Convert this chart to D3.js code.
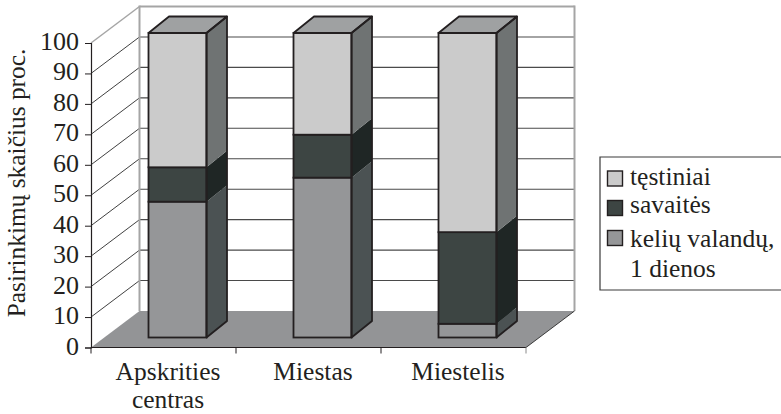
<!DOCTYPE html>
<html>
<head>
<meta charset="utf-8">
<script src="https://cdn.jsdelivr.net/npm/d3@7"></script>
<style>
  html, body { margin: 0; padding: 0; background: #fff; }
  svg { display: block; }
  text { font-family: "Liberation Serif", serif; fill: #231f20; }
</style>
</head>
<body>
<svg id="chart"></svg>
<script>
const categories = ["Apskrities centras", "Miestas", "Miestelis"];
const seriesNames = ["kelių valandų, 1 dienos", "savaitės", "tęstiniai"];
const hours = [44.6, 52.5, 4.5];
const weeks = [11.3, 14.1, 30.1];
const continuing = [44.1, 33.4, 65.4];
const yTicks = [0, 10, 20, 30, 40, 50, 60, 70, 80, 90, 100];
const legendLines = [["tęstiniai"], ["savaitės"], ["kelių valandų,", "1 dienos"]];

const width = 781, height = 414;
const svg = d3.select("#chart").attr("width", width).attr("height", height);

const x = d3.scaleBand().domain(categories).range([91, 526]);
const y = d3.scaleLinear().domain([0, 100]).range([347.5, 43]);
const color = d3.scaleOrdinal().domain(seriesNames).range(["#959698", "#3d4543", "#cbcbcb"]);
const sideColor = d3.scaleOrdinal().domain(seriesNames).range(["#4b5253", "#1f2625", "#6f7373"]);

const wall = {dx: 48.5, dy: -36.5};   // floor depth, front edge to back wall
const barFront = {dx: 14, dy: -10};
const barDepth = {dx: 20.5, dy: -16.5};
const barWidth = x.bandwidth() * 0.4;
const poly = pts => pts.map(p => p.join(",")).join(" ");
const x0 = x.range()[0], x1 = x.range()[1];

// back and left walls
yTicks.slice(1).forEach(t => {
    svg.append("line")
        .attr("x1", x0 + wall.dx).attr("x2", x1 + wall.dx)
        .attr("y1", y(t) + wall.dy).attr("y2", y(t) + wall.dy)
        .attr("stroke", t === 100 ? "#a5a5a5" : "#4a4a4a")
        .attr("stroke-width", t === 100 ? 2 : 1.1);
    svg.append("line")
        .attr("x1", x0).attr("x2", x0 + wall.dx)
        .attr("y1", y(t)).attr("y2", y(t) + wall.dy)
        .attr("stroke", t === 100 ? "#a5a5a5" : "#2a2a2a")
        .attr("stroke-width", t === 100 ? 1.5 : 0.9);
});
[x0 + wall.dx, x1 + wall.dx].forEach(px => {
    svg.append("line")
        .attr("x1", px).attr("x2", px)
        .attr("y1", y(100) + wall.dy - 1).attr("y2", y(0) + wall.dy)
        .attr("stroke", "#a5a5a5").attr("stroke-width", 2);
});

// floor
svg.append("polygon")
    .attr("points", poly([[x0, y(0)], [x1, y(0)], [x1 + wall.dx, y(0) + wall.dy], [x0 + wall.dx, y(0) + wall.dy]]))
    .attr("fill", "#939496");
svg.append("line")
    .attr("x1", x1).attr("x2", x1 + wall.dx)
    .attr("y1", y(0)).attr("y2", y(0) + wall.dy)
    .attr("stroke", "#2a2a2a").attr("stroke-width", 0.9);

// stacked columns
const rows = categories.map((c, i) => ({
    category: c,
    [seriesNames[0]]: hours[i],
    [seriesNames[1]]: weeks[i],
    [seriesNames[2]]: continuing[i]
}));
const stacked = d3.stack().keys(seriesNames)(rows);

const barLeft = d => x(d.data.category) + (x.bandwidth() - barWidth) / 2 + barFront.dx;
const edge = "#231f20";

const sides = svg.append("g");
const fronts = svg.append("g");
stacked.forEach(layer => {
    sides.selectAll(null).data(layer).join("polygon")
        .attr("points", d => {
            const r = barLeft(d) + barWidth;
            const lo = y(d[0]) + barFront.dy, hi = y(d[1]) + barFront.dy;
            return poly([[r, lo], [r, hi], [r + barDepth.dx, hi + barDepth.dy], [r + barDepth.dx, lo + barDepth.dy]]);
        })
        .attr("fill", sideColor(layer.key));
    fronts.selectAll(null).data(layer).join("rect")
        .attr("x", barLeft)
        .attr("y", d => y(d[1]) + barFront.dy)
        .attr("width", barWidth)
        .attr("height", d => y(d[0]) - y(d[1]))
        .attr("fill", color(layer.key))
        .attr("stroke", edge)
        .attr("stroke-width", 1.8);
});

// top face and outline of each column's side
stacked[stacked.length - 1].forEach(d => {
    const l = barLeft(d), r = l + barWidth;
    const top = y(d[1]) + barFront.dy, bottom = y(0) + barFront.dy;
    svg.append("polygon")
        .attr("points", poly([[l, top], [r, top], [r + barDepth.dx, top + barDepth.dy], [l + barDepth.dx, top + barDepth.dy]]))
        .attr("fill", "#9fa1a2").attr("stroke", edge).attr("stroke-width", 1.8)
        .attr("stroke-linejoin", "round");
    svg.append("polygon")
        .attr("points", poly([[r, top], [r + barDepth.dx, top + barDepth.dy], [r + barDepth.dx, bottom + barDepth.dy], [r, bottom]]))
        .attr("fill", "none").attr("stroke", edge).attr("stroke-width", 1.8)
        .attr("stroke-linejoin", "round");
});

// value axis
const yAxis = svg.append("g")
    .attr("transform", `translate(${x0},0)`)
    .call(d3.axisLeft(y).tickValues(yTicks).tickSize(6).tickPadding(6));
yAxis.select(".domain").attr("stroke", "#231f20").attr("stroke-width", 1.2);
yAxis.selectAll(".tick line").attr("stroke", "#231f20");
yAxis.selectAll(".tick text")
    .attr("dy", "0.25em")
    .style("font-family", '"Liberation Serif", serif')
    .style("font-size", "26px")
    .attr("fill", "#231f20");

// category axis, with ticks between the bands
svg.append("line")
    .attr("x1", x0).attr("x2", x1).attr("y1", y(0)).attr("y2", y(0))
    .attr("stroke", "#231f20").attr("stroke-width", 1.2);
categories.map(c => x(c)).concat([x1]).forEach((px, i) => {
    svg.append("line")
        .attr("x1", px).attr("x2", px).attr("y1", y(0)).attr("y2", y(0) + 6)
        .attr("stroke", i === 3 ? "#8a8a8a" : "#231f20");
});
const catLabels = svg.append("g").selectAll("text").data(categories).join("text")
    .attr("text-anchor", "middle")
    .style("font-size", "25.5px")
    .attr("transform", d => `translate(${x(d) + x.bandwidth() / 2 + 4.5},380)`);
catLabels.selectAll("tspan").data(d => d.split(" ")).join("tspan")
    .attr("x", 0)
    .attr("y", (d, i) => i * 28)
    .text(d => d);

// value axis title
svg.append("text")
    .attr("transform", "translate(25,183) rotate(-90)")
    .attr("text-anchor", "middle")
    .style("font-size", "25.4px")
    .text("Pasirinkimų skaičius proc.");

// legend
const legend = svg.append("g");
legend.append("path")
    .attr("d", "M781,157H600V290H781")
    .attr("fill", "#fff").attr("stroke", "#3a3a3a").attr("stroke-width", 1.2);
const legendColors = seriesNames.slice().reverse();
const legendBaselines = [[185], [212.7], [246.7, 276.7]];
const swatchTops = [171, 200.5, 230.5];
legendLines.forEach((lines, i) => {
    legend.append("rect")
        .attr("x", 607.5).attr("y", swatchTops[i])
        .attr("width", 15).attr("height", 15)
        .attr("fill", color(legendColors[i]))
        .attr("stroke", edge).attr("stroke-width", 1.4);
    lines.forEach((line, j) => {
        legend.append("text")
            .attr("x", 630).attr("y", legendBaselines[i][j])
            .style("font-size", "25.5px")
            .text(line);
    });
});
</script>
</body>
</html>
